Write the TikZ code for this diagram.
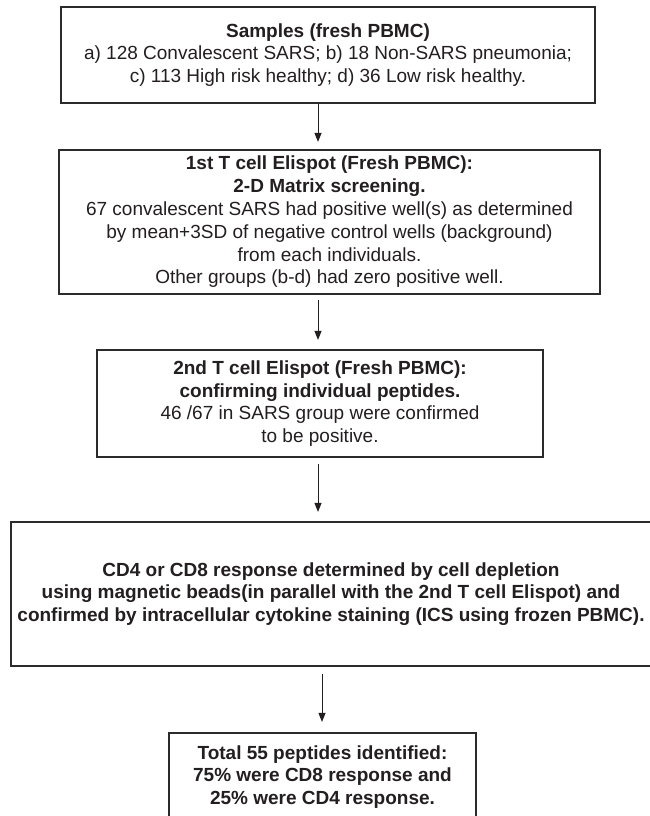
\documentclass[tikz,border=0pt]{standalone}
\usepackage{fontspec}
\setmainfont{Liberation Sans}
\usetikzlibrary{arrows.meta,calc}
\definecolor{txt}{HTML}{231F20}
\definecolor{boxc}{HTML}{2B2B2B}
\begin{document}
\begin{tikzpicture}[x=1pt,y=-1pt,
  box/.style={draw=boxc, line width=2.2pt, inner sep=0pt, align=center,
    font=\fontsize{19}{22.8}\selectfont, text=txt},
  arr/.style={draw=txt, line width=1pt, -{Triangle[length=9pt,width=7pt]}}]
\useasboundingbox (0,0) rectangle (650,816);
\fill[white] (0,0) rectangle (650,816);
\clip (0,0) rectangle (650,816);
\coordinate (ax) at (318,0);
\coordinate (bx) at (322,0);
\node[box, minimum width=534pt, minimum height=96pt] (b1) at (328,55)
  {\textbf{Samples (fresh PBMC)}\\
   a) 128 Convalescent SARS; b) 18 Non-SARS pneumonia;\\
   c) 113 High risk healthy; d) 36 Low risk healthy.};
\node[box, minimum width=541pt, minimum height=144pt] (b2) at (329.5,222)
  {\textbf{1st T cell Elispot (Fresh PBMC):}\\
   \textbf{2-D Matrix screening.}\\
   67 convalescent SARS had positive well(s) as determined\\
   by mean+3SD of negative control wells (background)\\
   from each individuals.\\
   Other groups (b-d) had zero positive well.};
\node[box, minimum width=446pt, minimum height=107pt] (b3) at (320,403.5)
  {\textbf{2nd T cell Elispot (Fresh PBMC):}\\
   \textbf{confirming individual peptides.}\\
   46 /67 in SARS group were confirmed\\
   to be positive.};
\node[box, minimum width=640pt, minimum height=144pt, font=\fontsize{19}{22.8}\selectfont\bfseries] (b4) at (331,594)
  {CD4 or CD8 response determined by cell depletion\\
   using magnetic beads(in parallel with the 2nd T cell Elispot) and\\
   confirmed by intracellular cytokine staining (ICS using frozen PBMC).};
\node[box, minimum width=307pt, minimum height=88pt, font=\fontsize{19}{22.8}\selectfont\bfseries] (b5) at (322.5,777)
  {Total 55 peptides identified:\\
   75\% were CD8 response and\\
   25\% were CD4 response.};
\draw[arr] (b1.south -| ax) -- ($(b2.north -| ax)+(0,-7)$);
\draw[arr] ($(b2.south -| ax)+(0,5)$) -- ($(b3.north -| ax)+(0,-9)$);
\draw[arr] ($(b3.south -| ax)+(0,6)$) -- ($(b4.north -| ax)+(0,-9)$);
\draw[arr] ($(b4.south -| bx)+(0,7)$) -- ($(b5.north -| bx)+(0,-10)$);
\end{tikzpicture}
\end{document}
